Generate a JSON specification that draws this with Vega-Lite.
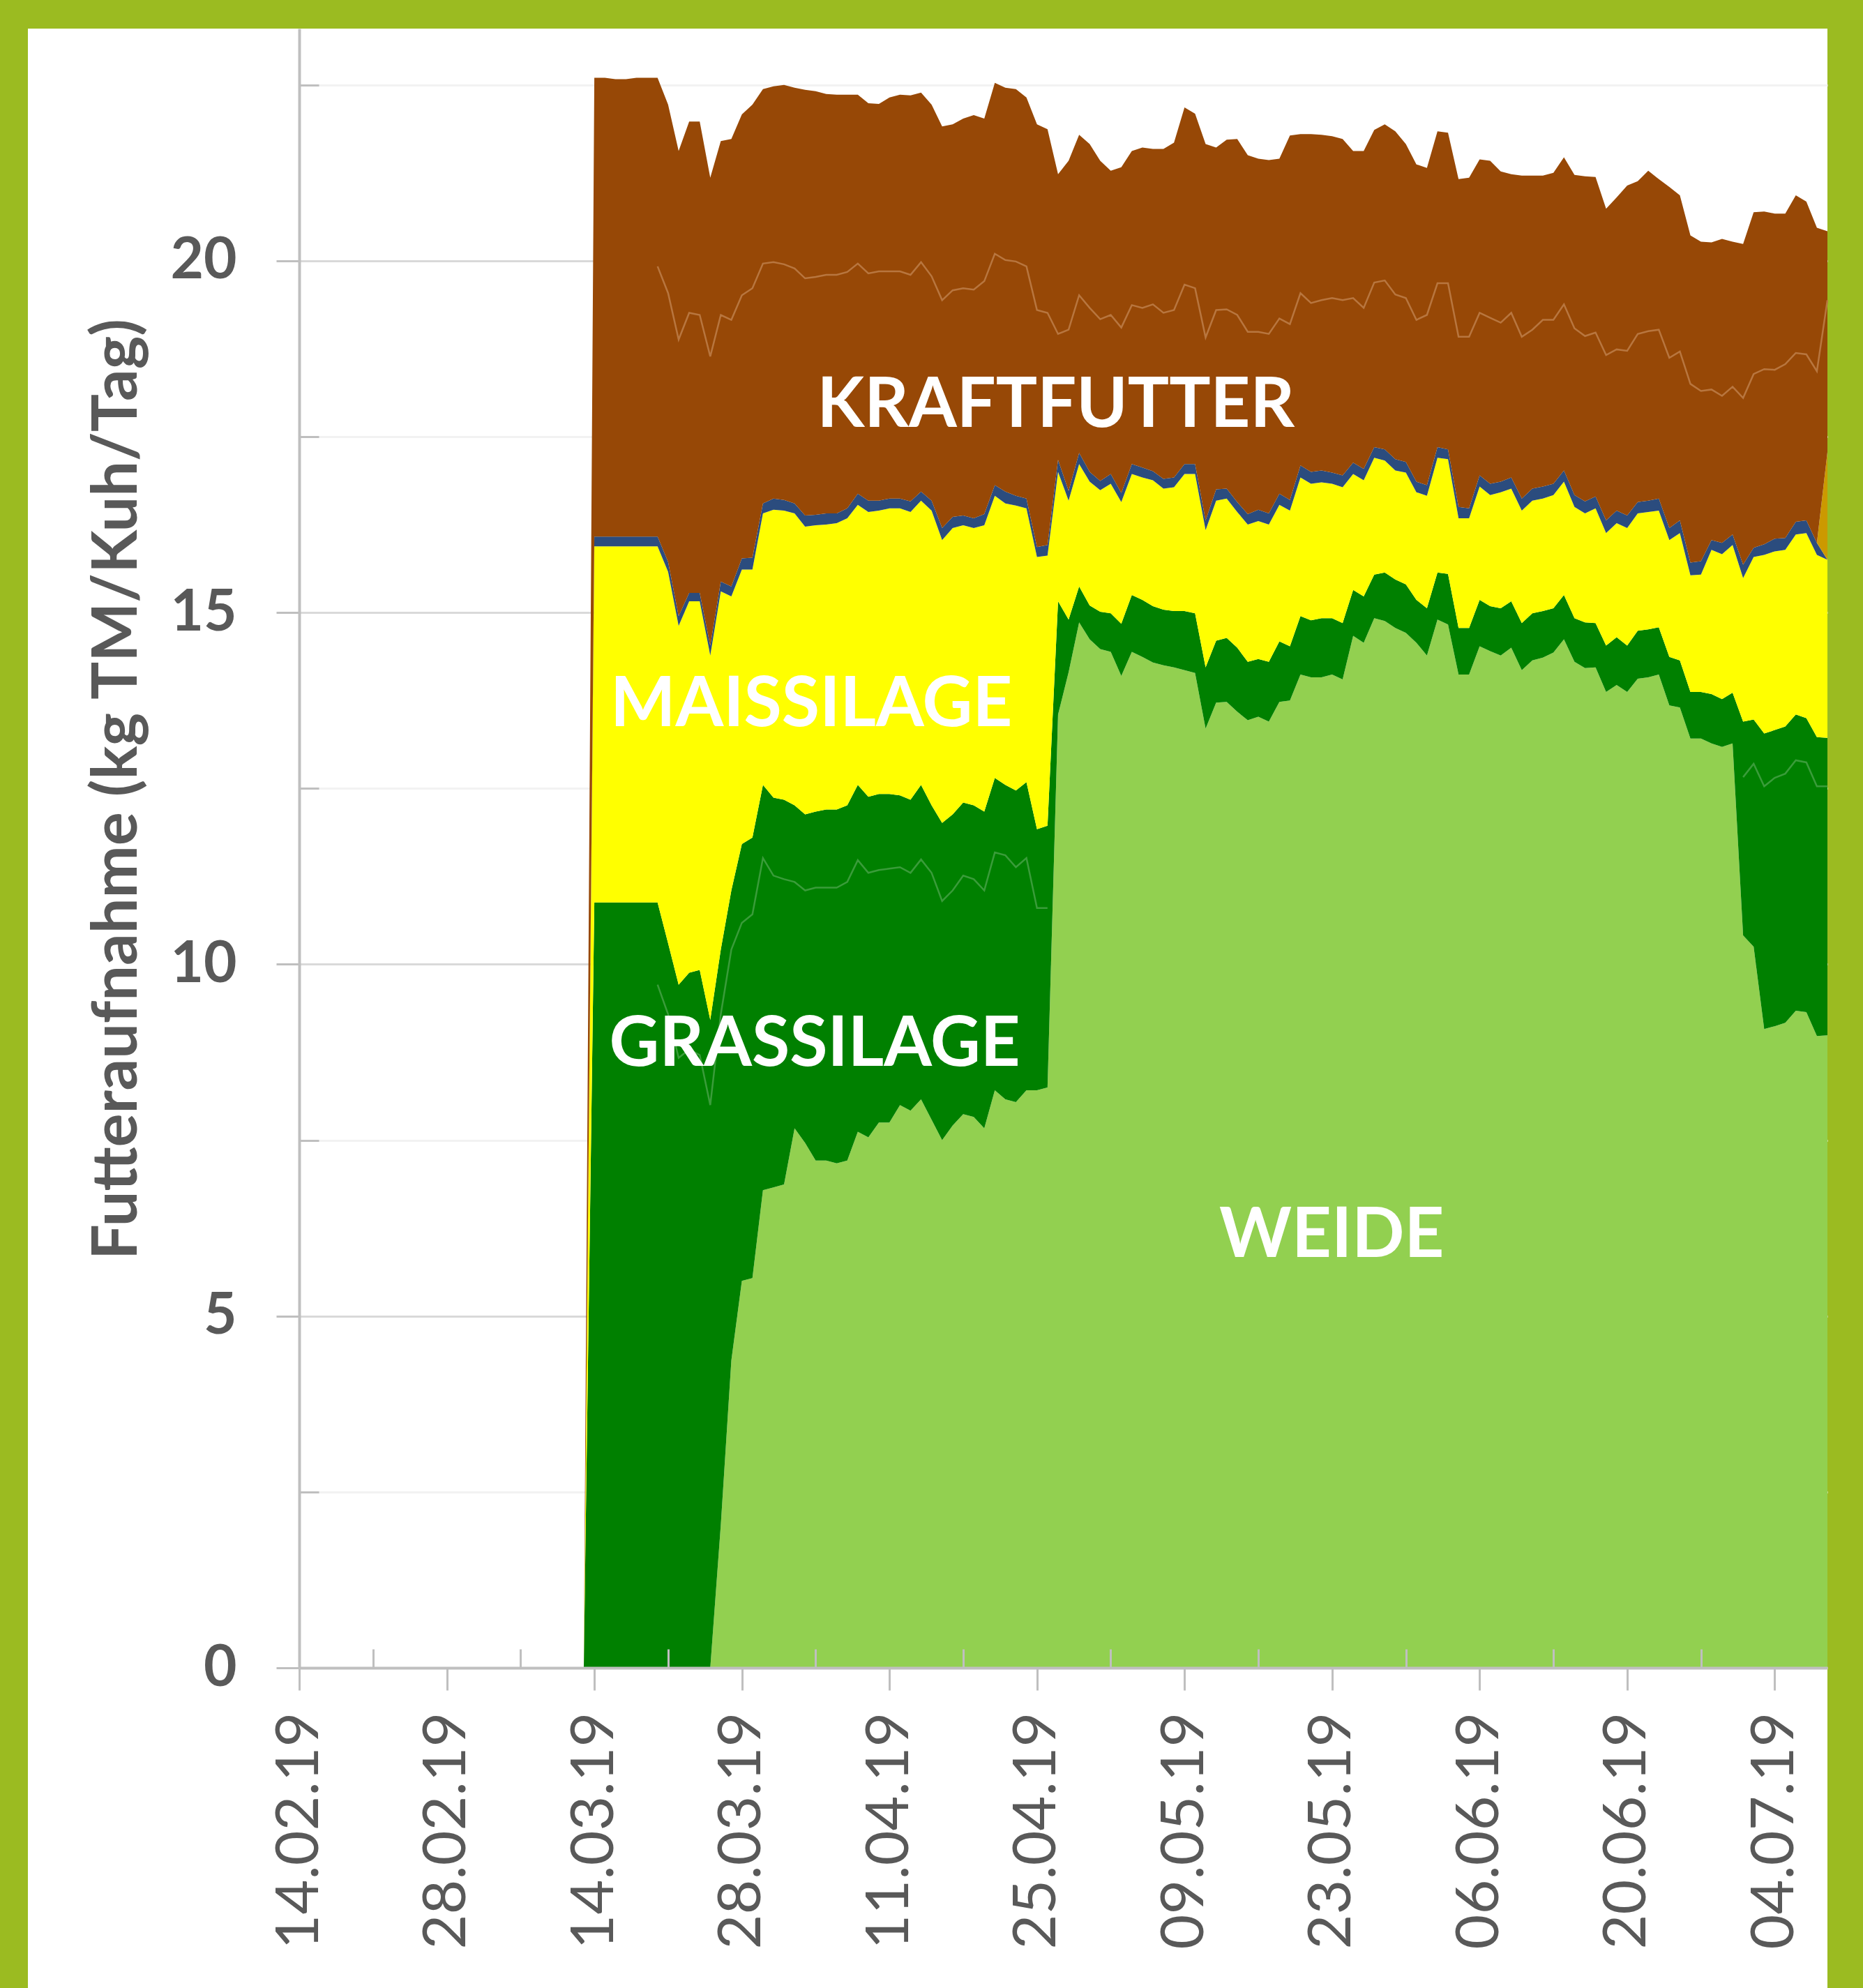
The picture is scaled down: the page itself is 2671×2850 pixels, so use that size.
{
  "$schema": "https://vega.github.io/schema/vega-lite/v6.json",
  "width": 2580,
  "height": 2809,
  "autosize": {"type": "none"},
  "padding": {"left": 40, "top": 41, "right": 51, "bottom": 0},
  "background": "#9BBB21",
  "config": {"view": {"fill": "#FFFFFF", "stroke": null}, "font": "Lato"},
  "datasets": {
    "reihen": [
      {"Futter": "Weide", "nr": 1},
      {"Futter": "Grassilage", "nr": 2},
      {"Futter": "Maissilage", "nr": 3},
      {"Futter": "Mineral", "nr": 4},
      {"Futter": "Sonstige", "nr": 5},
      {"Futter": "Kraftfutter", "nr": 6}
    ],
    "futter": [
      {"Datum": "2019-03-13", "Weide": 0, "Grassilage": 0, "Maissilage": 0, "Mineral": 0, "Sonstige": 0, "Kraftfutter": 0},
      {"Datum": "2019-03-14", "Weide": 0, "Grassilage": 10.88, "Maissilage": 5.06, "Mineral": 0.14, "Sonstige": 0, "Kraftfutter": 6.52},
      {"Datum": "2019-03-15", "Weide": 0, "Grassilage": 10.88, "Maissilage": 5.06, "Mineral": 0.14, "Sonstige": 0, "Kraftfutter": 6.52},
      {"Datum": "2019-03-16", "Weide": 0, "Grassilage": 10.88, "Maissilage": 5.06, "Mineral": 0.14, "Sonstige": 0, "Kraftfutter": 6.50},
      {"Datum": "2019-03-17", "Weide": 0, "Grassilage": 10.88, "Maissilage": 5.06, "Mineral": 0.14, "Sonstige": 0, "Kraftfutter": 6.50},
      {"Datum": "2019-03-18", "Weide": 0, "Grassilage": 10.88, "Maissilage": 5.06, "Mineral": 0.14, "Sonstige": 0, "Kraftfutter": 6.52},
      {"Datum": "2019-03-19", "Weide": 0, "Grassilage": 10.88, "Maissilage": 5.06, "Mineral": 0.14, "Sonstige": 0, "Kraftfutter": 6.52},
      {"Datum": "2019-03-20", "Weide": 0, "Grassilage": 10.88, "Maissilage": 5.06, "Mineral": 0.14, "Sonstige": 0, "Kraftfutter": 6.52},
      {"Datum": "2019-03-21", "Weide": 0, "Grassilage": 10.3, "Maissilage": 5.28, "Mineral": 0.14, "Sonstige": 0, "Kraftfutter": 6.5},
      {"Datum": "2019-03-22", "Weide": 0, "Grassilage": 9.71, "Maissilage": 5.1, "Mineral": 0.14, "Sonstige": 0, "Kraftfutter": 6.61},
      {"Datum": "2019-03-23", "Weide": 0, "Grassilage": 9.88, "Maissilage": 5.28, "Mineral": 0.12, "Sonstige": 0, "Kraftfutter": 6.7},
      {"Datum": "2019-03-24", "Weide": 0, "Grassilage": 9.92, "Maissilage": 5.24, "Mineral": 0.12, "Sonstige": 0, "Kraftfutter": 6.7},
      {"Datum": "2019-03-25", "Weide": 0, "Grassilage": 9.21, "Maissilage": 5.18, "Mineral": 0.14, "Sonstige": 0, "Kraftfutter": 6.65},
      {"Datum": "2019-03-26", "Weide": 2.03, "Grassilage": 8.18, "Maissilage": 5.09, "Mineral": 0.14, "Sonstige": 0, "Kraftfutter": 6.26},
      {"Datum": "2019-03-27", "Weide": 4.37, "Grassilage": 6.68, "Maissilage": 4.18, "Mineral": 0.14, "Sonstige": 0, "Kraftfutter": 6.36},
      {"Datum": "2019-03-28", "Weide": 5.5, "Grassilage": 6.21, "Maissilage": 3.9, "Mineral": 0.16, "Sonstige": 0, "Kraftfutter": 6.31},
      {"Datum": "2019-03-29", "Weide": 5.54, "Grassilage": 6.26, "Maissilage": 3.81, "Mineral": 0.17, "Sonstige": 0, "Kraftfutter": 6.44},
      {"Datum": "2019-03-30", "Weide": 6.79, "Grassilage": 5.76, "Maissilage": 3.86, "Mineral": 0.14, "Sonstige": 0, "Kraftfutter": 5.89},
      {"Datum": "2019-03-31", "Weide": 6.83, "Grassilage": 5.54, "Maissilage": 4.09, "Mineral": 0.16, "Sonstige": 0, "Kraftfutter": 5.86},
      {"Datum": "2019-04-01", "Weide": 6.87, "Grassilage": 5.47, "Maissilage": 4.11, "Mineral": 0.15, "Sonstige": 0, "Kraftfutter": 5.9},
      {"Datum": "2019-04-02", "Weide": 7.67, "Grassilage": 4.59, "Maissilage": 4.15, "Mineral": 0.14, "Sonstige": 0, "Kraftfutter": 5.91},
      {"Datum": "2019-04-03", "Weide": 7.46, "Grassilage": 4.67, "Maissilage": 4.09, "Mineral": 0.16, "Sonstige": 0, "Kraftfutter": 6.05},
      {"Datum": "2019-04-04", "Weide": 7.21, "Grassilage": 4.96, "Maissilage": 4.07, "Mineral": 0.15, "Sonstige": 0, "Kraftfutter": 6.02},
      {"Datum": "2019-04-05", "Weide": 7.21, "Grassilage": 4.99, "Maissilage": 4.05, "Mineral": 0.16, "Sonstige": 0, "Kraftfutter": 5.96},
      {"Datum": "2019-04-06", "Weide": 7.17, "Grassilage": 5.03, "Maissilage": 4.07, "Mineral": 0.14, "Sonstige": 0, "Kraftfutter": 5.95},
      {"Datum": "2019-04-07", "Weide": 7.21, "Grassilage": 5.05, "Maissilage": 4.08, "Mineral": 0.14, "Sonstige": 0, "Kraftfutter": 5.88},
      {"Datum": "2019-04-08", "Weide": 7.62, "Grassilage": 4.93, "Maissilage": 3.98, "Mineral": 0.16, "Sonstige": 0, "Kraftfutter": 5.67},
      {"Datum": "2019-04-09", "Weide": 7.54, "Grassilage": 4.84, "Maissilage": 4.05, "Mineral": 0.16, "Sonstige": 0, "Kraftfutter": 5.65},
      {"Datum": "2019-04-10", "Weide": 7.75, "Grassilage": 4.67, "Maissilage": 4.03, "Mineral": 0.14, "Sonstige": 0, "Kraftfutter": 5.64},
      {"Datum": "2019-04-11", "Weide": 7.75, "Grassilage": 4.67, "Maissilage": 4.06, "Mineral": 0.14, "Sonstige": 0, "Kraftfutter": 5.7},
      {"Datum": "2019-04-12", "Weide": 8.0, "Grassilage": 4.4, "Maissilage": 4.08, "Mineral": 0.14, "Sonstige": 0, "Kraftfutter": 5.74},
      {"Datum": "2019-04-13", "Weide": 7.92, "Grassilage": 4.42, "Maissilage": 4.09, "Mineral": 0.15, "Sonstige": 0, "Kraftfutter": 5.77},
      {"Datum": "2019-04-14", "Weide": 8.08, "Grassilage": 4.47, "Maissilage": 4.04, "Mineral": 0.13, "Sonstige": 0, "Kraftfutter": 5.67},
      {"Datum": "2019-04-15", "Weide": 7.79, "Grassilage": 4.47, "Maissilage": 4.19, "Mineral": 0.14, "Sonstige": 0, "Kraftfutter": 5.63},
      {"Datum": "2019-04-16", "Weide": 7.5, "Grassilage": 4.51, "Maissilage": 4.02, "Mineral": 0.17, "Sonstige": 0, "Kraftfutter": 5.71},
      {"Datum": "2019-04-17", "Weide": 7.71, "Grassilage": 4.42, "Maissilage": 4.07, "Mineral": 0.16, "Sonstige": 0, "Kraftfutter": 5.58},
      {"Datum": "2019-04-18", "Weide": 7.87, "Grassilage": 4.43, "Maissilage": 3.94, "Mineral": 0.14, "Sonstige": 0, "Kraftfutter": 5.64},
      {"Datum": "2019-04-19", "Weide": 7.83, "Grassilage": 4.43, "Maissilage": 3.94, "Mineral": 0.14, "Sonstige": 0, "Kraftfutter": 5.73},
      {"Datum": "2019-04-20", "Weide": 7.67, "Grassilage": 4.5, "Maissilage": 4.07, "Mineral": 0.16, "Sonstige": 0, "Kraftfutter": 5.62},
      {"Datum": "2019-04-21", "Weide": 8.21, "Grassilage": 4.44, "Maissilage": 4.01, "Mineral": 0.15, "Sonstige": 0, "Kraftfutter": 5.72},
      {"Datum": "2019-04-22", "Weide": 8.08, "Grassilage": 4.47, "Maissilage": 4.0, "Mineral": 0.17, "Sonstige": 0, "Kraftfutter": 5.74},
      {"Datum": "2019-04-23", "Weide": 8.04, "Grassilage": 4.43, "Maissilage": 4.05, "Mineral": 0.14, "Sonstige": 0, "Kraftfutter": 5.78},
      {"Datum": "2019-04-24", "Weide": 8.21, "Grassilage": 4.38, "Maissilage": 3.89, "Mineral": 0.14, "Sonstige": 0, "Kraftfutter": 5.7},
      {"Datum": "2019-04-25", "Weide": 8.21, "Grassilage": 3.71, "Maissilage": 3.87, "Mineral": 0.14, "Sonstige": 0, "Kraftfutter": 6.01},
      {"Datum": "2019-04-26", "Weide": 8.25, "Grassilage": 3.72, "Maissilage": 3.84, "Mineral": 0.15, "Sonstige": 0, "Kraftfutter": 5.91},
      {"Datum": "2019-04-27", "Weide": 13.55, "Grassilage": 1.61, "Maissilage": 1.84, "Mineral": 0.17, "Sonstige": 0, "Kraftfutter": 4.06},
      {"Datum": "2019-04-28", "Weide": 14.15, "Grassilage": 0.75, "Maissilage": 1.69, "Mineral": 0.14, "Sonstige": 0, "Kraftfutter": 4.69},
      {"Datum": "2019-04-29", "Weide": 14.86, "Grassilage": 0.51, "Maissilage": 1.74, "Mineral": 0.16, "Sonstige": 0, "Kraftfutter": 4.52},
      {"Datum": "2019-04-30", "Weide": 14.62, "Grassilage": 0.48, "Maissilage": 1.76, "Mineral": 0.14, "Sonstige": 0, "Kraftfutter": 4.66},
      {"Datum": "2019-05-01", "Weide": 14.48, "Grassilage": 0.53, "Maissilage": 1.73, "Mineral": 0.13, "Sonstige": 0, "Kraftfutter": 4.55},
      {"Datum": "2019-05-02", "Weide": 14.44, "Grassilage": 0.55, "Maissilage": 1.84, "Mineral": 0.14, "Sonstige": 0, "Kraftfutter": 4.31},
      {"Datum": "2019-05-03", "Weide": 14.1, "Grassilage": 0.74, "Maissilage": 1.73, "Mineral": 0.13, "Sonstige": 0, "Kraftfutter": 4.63},
      {"Datum": "2019-05-04", "Weide": 14.44, "Grassilage": 0.81, "Maissilage": 1.72, "Mineral": 0.14, "Sonstige": 0, "Kraftfutter": 4.45},
      {"Datum": "2019-05-05", "Weide": 14.37, "Grassilage": 0.81, "Maissilage": 1.74, "Mineral": 0.14, "Sonstige": 0, "Kraftfutter": 4.55},
      {"Datum": "2019-05-06", "Weide": 14.29, "Grassilage": 0.8, "Maissilage": 1.79, "Mineral": 0.13, "Sonstige": 0, "Kraftfutter": 4.58},
      {"Datum": "2019-05-07", "Weide": 14.25, "Grassilage": 0.79, "Maissilage": 1.72, "Mineral": 0.14, "Sonstige": 0, "Kraftfutter": 4.69},
      {"Datum": "2019-05-08", "Weide": 14.22, "Grassilage": 0.8, "Maissilage": 1.76, "Mineral": 0.14, "Sonstige": 0, "Kraftfutter": 4.76},
      {"Datum": "2019-05-09", "Weide": 14.18, "Grassilage": 0.84, "Maissilage": 1.95, "Mineral": 0.14, "Sonstige": 0, "Kraftfutter": 5.07},
      {"Datum": "2019-05-10", "Weide": 14.14, "Grassilage": 0.85, "Maissilage": 1.98, "Mineral": 0.14, "Sonstige": 0, "Kraftfutter": 4.98},
      {"Datum": "2019-05-11", "Weide": 13.35, "Grassilage": 0.87, "Maissilage": 1.95, "Mineral": 0.14, "Sonstige": 0, "Kraftfutter": 5.35},
      {"Datum": "2019-05-12", "Weide": 13.72, "Grassilage": 0.88, "Maissilage": 1.99, "Mineral": 0.16, "Sonstige": 0, "Kraftfutter": 4.86},
      {"Datum": "2019-05-13", "Weide": 13.73, "Grassilage": 0.91, "Maissilage": 1.98, "Mineral": 0.14, "Sonstige": 0, "Kraftfutter": 4.96},
      {"Datum": "2019-05-14", "Weide": 13.59, "Grassilage": 0.91, "Maissilage": 1.93, "Mineral": 0.14, "Sonstige": 0, "Kraftfutter": 5.16},
      {"Datum": "2019-05-15", "Weide": 13.47, "Grassilage": 0.83, "Maissilage": 1.95, "Mineral": 0.15, "Sonstige": 0, "Kraftfutter": 5.1},
      {"Datum": "2019-05-16", "Weide": 13.52, "Grassilage": 0.82, "Maissilage": 1.96, "Mineral": 0.16, "Sonstige": 0, "Kraftfutter": 4.99},
      {"Datum": "2019-05-17", "Weide": 13.45, "Grassilage": 0.85, "Maissilage": 1.95, "Mineral": 0.16, "Sonstige": 0, "Kraftfutter": 5.02},
      {"Datum": "2019-05-18", "Weide": 13.73, "Grassilage": 0.86, "Maissilage": 1.94, "Mineral": 0.16, "Sonstige": 0, "Kraftfutter": 4.76},
      {"Datum": "2019-05-19", "Weide": 13.75, "Grassilage": 0.77, "Maissilage": 1.93, "Mineral": 0.15, "Sonstige": 0, "Kraftfutter": 5.18},
      {"Datum": "2019-05-20", "Weide": 14.12, "Grassilage": 0.83, "Maissilage": 1.97, "Mineral": 0.17, "Sonstige": 0, "Kraftfutter": 4.71},
      {"Datum": "2019-05-21", "Weide": 14.08, "Grassilage": 0.81, "Maissilage": 1.94, "Mineral": 0.17, "Sonstige": 0, "Kraftfutter": 4.8},
      {"Datum": "2019-05-22", "Weide": 14.08, "Grassilage": 0.84, "Maissilage": 1.93, "Mineral": 0.17, "Sonstige": 0, "Kraftfutter": 4.77},
      {"Datum": "2019-05-23", "Weide": 14.12, "Grassilage": 0.8, "Maissilage": 1.91, "Mineral": 0.16, "Sonstige": 0, "Kraftfutter": 4.78},
      {"Datum": "2019-05-24", "Weide": 14.05, "Grassilage": 0.8, "Maissilage": 1.93, "Mineral": 0.17, "Sonstige": 0, "Kraftfutter": 4.78},
      {"Datum": "2019-05-25", "Weide": 14.67, "Grassilage": 0.65, "Maissilage": 1.65, "Mineral": 0.16, "Sonstige": 0, "Kraftfutter": 4.43},
      {"Datum": "2019-05-26", "Weide": 14.57, "Grassilage": 0.66, "Maissilage": 1.65, "Mineral": 0.16, "Sonstige": 0, "Kraftfutter": 4.52},
      {"Datum": "2019-05-27", "Weide": 14.92, "Grassilage": 0.62, "Maissilage": 1.66, "Mineral": 0.15, "Sonstige": 0, "Kraftfutter": 4.51},
      {"Datum": "2019-05-28", "Weide": 14.88, "Grassilage": 0.69, "Maissilage": 1.59, "Mineral": 0.16, "Sonstige": 0, "Kraftfutter": 4.62},
      {"Datum": "2019-05-29", "Weide": 14.78, "Grassilage": 0.69, "Maissilage": 1.55, "Mineral": 0.16, "Sonstige": 0, "Kraftfutter": 4.66},
      {"Datum": "2019-05-30", "Weide": 14.71, "Grassilage": 0.69, "Maissilage": 1.59, "Mineral": 0.15, "Sonstige": 0, "Kraftfutter": 4.52},
      {"Datum": "2019-05-31", "Weide": 14.57, "Grassilage": 0.61, "Maissilage": 1.53, "Mineral": 0.15, "Sonstige": 0, "Kraftfutter": 4.51},
      {"Datum": "2019-06-01", "Weide": 14.39, "Grassilage": 0.67, "Maissilage": 1.6, "Mineral": 0.15, "Sonstige": 0, "Kraftfutter": 4.51},
      {"Datum": "2019-06-02", "Weide": 14.9, "Grassilage": 0.67, "Maissilage": 1.63, "Mineral": 0.15, "Sonstige": 0, "Kraftfutter": 4.49},
      {"Datum": "2019-06-03", "Weide": 14.83, "Grassilage": 0.72, "Maissilage": 1.63, "Mineral": 0.14, "Sonstige": 0, "Kraftfutter": 4.5},
      {"Datum": "2019-06-04", "Weide": 14.12, "Grassilage": 0.66, "Maissilage": 1.56, "Mineral": 0.16, "Sonstige": 0, "Kraftfutter": 4.66},
      {"Datum": "2019-06-05", "Weide": 14.12, "Grassilage": 0.66, "Maissilage": 1.56, "Mineral": 0.14, "Sonstige": 0, "Kraftfutter": 4.7},
      {"Datum": "2019-06-06", "Weide": 14.52, "Grassilage": 0.66, "Maissilage": 1.61, "Mineral": 0.16, "Sonstige": 0, "Kraftfutter": 4.49},
      {"Datum": "2019-06-07", "Weide": 14.45, "Grassilage": 0.64, "Maissilage": 1.58, "Mineral": 0.16, "Sonstige": 0, "Kraftfutter": 4.59},
      {"Datum": "2019-06-08", "Weide": 14.39, "Grassilage": 0.67, "Maissilage": 1.65, "Mineral": 0.15, "Sonstige": 0, "Kraftfutter": 4.41},
      {"Datum": "2019-06-09", "Weide": 14.5, "Grassilage": 0.66, "Maissilage": 1.6, "Mineral": 0.16, "Sonstige": 0, "Kraftfutter": 4.31},
      {"Datum": "2019-06-10", "Weide": 14.18, "Grassilage": 0.67, "Maissilage": 1.6, "Mineral": 0.17, "Sonstige": 0, "Kraftfutter": 4.59},
      {"Datum": "2019-06-11", "Weide": 14.32, "Grassilage": 0.67, "Maissilage": 1.6, "Mineral": 0.17, "Sonstige": 0, "Kraftfutter": 4.45},
      {"Datum": "2019-06-12", "Weide": 14.36, "Grassilage": 0.66, "Maissilage": 1.6, "Mineral": 0.17, "Sonstige": 0, "Kraftfutter": 4.42},
      {"Datum": "2019-06-13", "Weide": 14.43, "Grassilage": 0.63, "Maissilage": 1.61, "Mineral": 0.16, "Sonstige": 0, "Kraftfutter": 4.42},
      {"Datum": "2019-06-14", "Weide": 14.62, "Grassilage": 0.63, "Maissilage": 1.61, "Mineral": 0.16, "Sonstige": 0, "Kraftfutter": 4.45},
      {"Datum": "2019-06-15", "Weide": 14.3, "Grassilage": 0.62, "Maissilage": 1.58, "Mineral": 0.17, "Sonstige": 0, "Kraftfutter": 4.55},
      {"Datum": "2019-06-16", "Weide": 14.21, "Grassilage": 0.65, "Maissilage": 1.55, "Mineral": 0.17, "Sonstige": 0, "Kraftfutter": 4.62},
      {"Datum": "2019-06-17", "Weide": 14.22, "Grassilage": 0.63, "Maissilage": 1.63, "Mineral": 0.17, "Sonstige": 0, "Kraftfutter": 4.54},
      {"Datum": "2019-06-18", "Weide": 13.87, "Grassilage": 0.66, "Maissilage": 1.6, "Mineral": 0.18, "Sonstige": 0, "Kraftfutter": 4.43},
      {"Datum": "2019-06-19", "Weide": 13.97, "Grassilage": 0.68, "Maissilage": 1.62, "Mineral": 0.18, "Sonstige": 0, "Kraftfutter": 4.45},
      {"Datum": "2019-06-20", "Weide": 13.87, "Grassilage": 0.66, "Maissilage": 1.67, "Mineral": 0.18, "Sonstige": 0, "Kraftfutter": 4.69},
      {"Datum": "2019-06-21", "Weide": 14.06, "Grassilage": 0.68, "Maissilage": 1.67, "Mineral": 0.16, "Sonstige": 0, "Kraftfutter": 4.56},
      {"Datum": "2019-06-22", "Weide": 14.08, "Grassilage": 0.68, "Maissilage": 1.67, "Mineral": 0.16, "Sonstige": 0, "Kraftfutter": 4.69},
      {"Datum": "2019-06-23", "Weide": 14.12, "Grassilage": 0.67, "Maissilage": 1.66, "Mineral": 0.17, "Sonstige": 0, "Kraftfutter": 4.54},
      {"Datum": "2019-06-24", "Weide": 13.68, "Grassilage": 0.69, "Maissilage": 1.66, "Mineral": 0.17, "Sonstige": 0, "Kraftfutter": 4.85},
      {"Datum": "2019-06-25", "Weide": 13.65, "Grassilage": 0.67, "Maissilage": 1.81, "Mineral": 0.18, "Sonstige": 0, "Kraftfutter": 4.62},
      {"Datum": "2019-06-26", "Weide": 13.21, "Grassilage": 0.66, "Maissilage": 1.66, "Mineral": 0.18, "Sonstige": 0, "Kraftfutter": 4.65},
      {"Datum": "2019-06-27", "Weide": 13.21, "Grassilage": 0.66, "Maissilage": 1.67, "Mineral": 0.19, "Sonstige": 0, "Kraftfutter": 4.54},
      {"Datum": "2019-06-28", "Weide": 13.14, "Grassilage": 0.7, "Maissilage": 2.05, "Mineral": 0.14, "Sonstige": 0, "Kraftfutter": 4.23},
      {"Datum": "2019-06-29", "Weide": 13.09, "Grassilage": 0.68, "Maissilage": 2.06, "Mineral": 0.16, "Sonstige": 0, "Kraftfutter": 4.32},
      {"Datum": "2019-06-30", "Weide": 13.14, "Grassilage": 0.72, "Maissilage": 2.1, "Mineral": 0.15, "Sonstige": 0, "Kraftfutter": 4.16},
      {"Datum": "2019-07-01", "Weide": 10.41, "Grassilage": 3.04, "Maissilage": 2.04, "Mineral": 0.19, "Sonstige": 0, "Kraftfutter": 4.56},
      {"Datum": "2019-07-02", "Weide": 10.25, "Grassilage": 3.23, "Maissilage": 2.31, "Mineral": 0.13, "Sonstige": 0, "Kraftfutter": 4.77},
      {"Datum": "2019-07-03", "Weide": 9.08, "Grassilage": 4.2, "Maissilage": 2.54, "Mineral": 0.15, "Sonstige": 0, "Kraftfutter": 4.73},
      {"Datum": "2019-07-04", "Weide": 9.12, "Grassilage": 4.21, "Maissilage": 2.54, "Mineral": 0.18, "Sonstige": 0, "Kraftfutter": 4.62},
      {"Datum": "2019-07-05", "Weide": 9.17, "Grassilage": 4.21, "Maissilage": 2.51, "Mineral": 0.17, "Sonstige": 0, "Kraftfutter": 4.61},
      {"Datum": "2019-07-06", "Weide": 9.34, "Grassilage": 4.21, "Maissilage": 2.56, "Mineral": 0.18, "Sonstige": 0, "Kraftfutter": 4.64},
      {"Datum": "2019-07-07", "Weide": 9.32, "Grassilage": 4.18, "Maissilage": 2.63, "Mineral": 0.18, "Sonstige": 0, "Kraftfutter": 4.53},
      {"Datum": "2019-07-08", "Weide": 8.98, "Grassilage": 4.25, "Maissilage": 2.59, "Mineral": 0.17, "Sonstige": 0, "Kraftfutter": 4.48},
      {"Datum": "2019-07-09", "Weide": 8.99, "Grassilage": 4.23, "Maissilage": 2.53, "Mineral": 0, "Sonstige": 1.53, "Kraftfutter": 3.14}
    ],
    "naht_gras": [
      {"Datum": "2019-03-20", "Abschnitt": "a", "kg": 9.71},
      {"Datum": "2019-03-21", "Abschnitt": "a", "kg": 9.29},
      {"Datum": "2019-03-22", "Abschnitt": "a", "kg": 8.67},
      {"Datum": "2019-03-23", "Abschnitt": "a", "kg": 8.79},
      {"Datum": "2019-03-24", "Abschnitt": "a", "kg": 8.71},
      {"Datum": "2019-03-25", "Abschnitt": "a", "kg": 8.0},
      {"Datum": "2019-03-26", "Abschnitt": "a", "kg": 9.29},
      {"Datum": "2019-03-27", "Abschnitt": "a", "kg": 10.21},
      {"Datum": "2019-03-28", "Abschnitt": "a", "kg": 10.59},
      {"Datum": "2019-03-29", "Abschnitt": "a", "kg": 10.71},
      {"Datum": "2019-03-30", "Abschnitt": "a", "kg": 11.51},
      {"Datum": "2019-03-31", "Abschnitt": "a", "kg": 11.26},
      {"Datum": "2019-04-01", "Abschnitt": "a", "kg": 11.21},
      {"Datum": "2019-04-02", "Abschnitt": "a", "kg": 11.17},
      {"Datum": "2019-04-03", "Abschnitt": "a", "kg": 11.05},
      {"Datum": "2019-04-04", "Abschnitt": "a", "kg": 11.09},
      {"Datum": "2019-04-05", "Abschnitt": "a", "kg": 11.09},
      {"Datum": "2019-04-06", "Abschnitt": "a", "kg": 11.09},
      {"Datum": "2019-04-07", "Abschnitt": "a", "kg": 11.17},
      {"Datum": "2019-04-08", "Abschnitt": "a", "kg": 11.48},
      {"Datum": "2019-04-09", "Abschnitt": "a", "kg": 11.3},
      {"Datum": "2019-04-10", "Abschnitt": "a", "kg": 11.34},
      {"Datum": "2019-04-11", "Abschnitt": "a", "kg": 11.36},
      {"Datum": "2019-04-12", "Abschnitt": "a", "kg": 11.38},
      {"Datum": "2019-04-13", "Abschnitt": "a", "kg": 11.3},
      {"Datum": "2019-04-14", "Abschnitt": "a", "kg": 11.49},
      {"Datum": "2019-04-15", "Abschnitt": "a", "kg": 11.3},
      {"Datum": "2019-04-16", "Abschnitt": "a", "kg": 10.9},
      {"Datum": "2019-04-17", "Abschnitt": "a", "kg": 11.05},
      {"Datum": "2019-04-18", "Abschnitt": "a", "kg": 11.26},
      {"Datum": "2019-04-19", "Abschnitt": "a", "kg": 11.21},
      {"Datum": "2019-04-20", "Abschnitt": "a", "kg": 11.05},
      {"Datum": "2019-04-21", "Abschnitt": "a", "kg": 11.59},
      {"Datum": "2019-04-22", "Abschnitt": "a", "kg": 11.55},
      {"Datum": "2019-04-23", "Abschnitt": "a", "kg": 11.38},
      {"Datum": "2019-04-24", "Abschnitt": "a", "kg": 11.51},
      {"Datum": "2019-04-25", "Abschnitt": "a", "kg": 10.8},
      {"Datum": "2019-04-26", "Abschnitt": "a", "kg": 10.8},
      {"Datum": "2019-07-01", "Abschnitt": "b", "kg": 12.66},
      {"Datum": "2019-07-02", "Abschnitt": "b", "kg": 12.85},
      {"Datum": "2019-07-03", "Abschnitt": "b", "kg": 12.53},
      {"Datum": "2019-07-04", "Abschnitt": "b", "kg": 12.65},
      {"Datum": "2019-07-05", "Abschnitt": "b", "kg": 12.71},
      {"Datum": "2019-07-06", "Abschnitt": "b", "kg": 12.9},
      {"Datum": "2019-07-07", "Abschnitt": "b", "kg": 12.87},
      {"Datum": "2019-07-08", "Abschnitt": "b", "kg": 12.53},
      {"Datum": "2019-07-09", "Abschnitt": "b", "kg": 12.53}
    ],
    "naht_kraft": [
      {"Datum": "2019-03-20", "kg": 19.92}, {"Datum": "2019-03-21", "kg": 19.54}, {"Datum": "2019-03-22", "kg": 18.88},
      {"Datum": "2019-03-23", "kg": 19.26}, {"Datum": "2019-03-24", "kg": 19.23}, {"Datum": "2019-03-25", "kg": 18.64},
      {"Datum": "2019-03-26", "kg": 19.23}, {"Datum": "2019-03-27", "kg": 19.16}, {"Datum": "2019-03-28", "kg": 19.51},
      {"Datum": "2019-03-29", "kg": 19.61}, {"Datum": "2019-03-30", "kg": 19.96}, {"Datum": "2019-03-31", "kg": 19.98},
      {"Datum": "2019-04-01", "kg": 19.95}, {"Datum": "2019-04-02", "kg": 19.89}, {"Datum": "2019-04-03", "kg": 19.75},
      {"Datum": "2019-04-04", "kg": 19.77}, {"Datum": "2019-04-05", "kg": 19.8}, {"Datum": "2019-04-06", "kg": 19.8},
      {"Datum": "2019-04-07", "kg": 19.84}, {"Datum": "2019-04-08", "kg": 19.96}, {"Datum": "2019-04-09", "kg": 19.82},
      {"Datum": "2019-04-10", "kg": 19.85}, {"Datum": "2019-04-11", "kg": 19.85}, {"Datum": "2019-04-12", "kg": 19.85},
      {"Datum": "2019-04-13", "kg": 19.8}, {"Datum": "2019-04-14", "kg": 19.98}, {"Datum": "2019-04-15", "kg": 19.78},
      {"Datum": "2019-04-16", "kg": 19.44}, {"Datum": "2019-04-17", "kg": 19.58}, {"Datum": "2019-04-18", "kg": 19.61},
      {"Datum": "2019-04-19", "kg": 19.59}, {"Datum": "2019-04-20", "kg": 19.71}, {"Datum": "2019-04-21", "kg": 20.1},
      {"Datum": "2019-04-22", "kg": 20.01}, {"Datum": "2019-04-23", "kg": 19.99}, {"Datum": "2019-04-24", "kg": 19.92},
      {"Datum": "2019-04-25", "kg": 19.3}, {"Datum": "2019-04-26", "kg": 19.26}, {"Datum": "2019-04-27", "kg": 18.96},
      {"Datum": "2019-04-28", "kg": 19.02}, {"Datum": "2019-04-29", "kg": 19.51}, {"Datum": "2019-04-30", "kg": 19.33},
      {"Datum": "2019-05-01", "kg": 19.17}, {"Datum": "2019-05-02", "kg": 19.23}, {"Datum": "2019-05-03", "kg": 19.05},
      {"Datum": "2019-05-04", "kg": 19.37}, {"Datum": "2019-05-05", "kg": 19.33}, {"Datum": "2019-05-06", "kg": 19.38},
      {"Datum": "2019-05-07", "kg": 19.26}, {"Datum": "2019-05-08", "kg": 19.3}, {"Datum": "2019-05-09", "kg": 19.66},
      {"Datum": "2019-05-10", "kg": 19.61}, {"Datum": "2019-05-11", "kg": 18.91}, {"Datum": "2019-05-12", "kg": 19.3},
      {"Datum": "2019-05-13", "kg": 19.31}, {"Datum": "2019-05-14", "kg": 19.23}, {"Datum": "2019-05-15", "kg": 18.99},
      {"Datum": "2019-05-16", "kg": 18.99}, {"Datum": "2019-05-17", "kg": 18.96}, {"Datum": "2019-05-18", "kg": 19.18},
      {"Datum": "2019-05-19", "kg": 19.1}, {"Datum": "2019-05-20", "kg": 19.54}, {"Datum": "2019-05-21", "kg": 19.4},
      {"Datum": "2019-05-22", "kg": 19.44}, {"Datum": "2019-05-23", "kg": 19.47}, {"Datum": "2019-05-24", "kg": 19.44},
      {"Datum": "2019-05-25", "kg": 19.47}, {"Datum": "2019-05-26", "kg": 19.33}, {"Datum": "2019-05-27", "kg": 19.69},
      {"Datum": "2019-05-28", "kg": 19.72}, {"Datum": "2019-05-29", "kg": 19.52}, {"Datum": "2019-05-30", "kg": 19.47},
      {"Datum": "2019-05-31", "kg": 19.16}, {"Datum": "2019-06-01", "kg": 19.23}, {"Datum": "2019-06-02", "kg": 19.68},
      {"Datum": "2019-06-03", "kg": 19.68}, {"Datum": "2019-06-04", "kg": 18.92}, {"Datum": "2019-06-05", "kg": 18.92},
      {"Datum": "2019-06-06", "kg": 19.26}, {"Datum": "2019-06-07", "kg": 19.19}, {"Datum": "2019-06-08", "kg": 19.12},
      {"Datum": "2019-06-09", "kg": 19.26}, {"Datum": "2019-06-10", "kg": 18.92}, {"Datum": "2019-06-11", "kg": 19.02},
      {"Datum": "2019-06-12", "kg": 19.16}, {"Datum": "2019-06-13", "kg": 19.16}, {"Datum": "2019-06-14", "kg": 19.38},
      {"Datum": "2019-06-15", "kg": 19.04}, {"Datum": "2019-06-16", "kg": 18.93}, {"Datum": "2019-06-17", "kg": 18.98},
      {"Datum": "2019-06-18", "kg": 18.66}, {"Datum": "2019-06-19", "kg": 18.74}, {"Datum": "2019-06-20", "kg": 18.72},
      {"Datum": "2019-06-21", "kg": 18.96}, {"Datum": "2019-06-22", "kg": 19.0}, {"Datum": "2019-06-23", "kg": 19.02},
      {"Datum": "2019-06-24", "kg": 18.62}, {"Datum": "2019-06-25", "kg": 18.71}, {"Datum": "2019-06-26", "kg": 18.25},
      {"Datum": "2019-06-27", "kg": 18.15}, {"Datum": "2019-06-28", "kg": 18.17}, {"Datum": "2019-06-29", "kg": 18.08},
      {"Datum": "2019-06-30", "kg": 18.21}, {"Datum": "2019-07-01", "kg": 18.05}, {"Datum": "2019-07-02", "kg": 18.39},
      {"Datum": "2019-07-03", "kg": 18.46}, {"Datum": "2019-07-04", "kg": 18.45}, {"Datum": "2019-07-05", "kg": 18.53},
      {"Datum": "2019-07-06", "kg": 18.69}, {"Datum": "2019-07-07", "kg": 18.67}, {"Datum": "2019-07-08", "kg": 18.43},
      {"Datum": "2019-07-09", "kg": 19.44}
    ],
    "beschriftung": [
      {"Text": "KRAFTFUTTER", "Datum": "2019-04-26T19:00:00Z", "kg": 17.64},
      {"Text": "MAISSILAGE", "Datum": "2019-04-03T14:00:00Z", "kg": 13.39},
      {"Text": "GRASSILAGE", "Datum": "2019-04-03T22:00:00Z", "kg": 8.56},
      {"Text": "WEIDE", "Datum": "2019-05-22T23:00:00Z", "kg": 5.84}
    ]
  },
  "layer": [
    {
      "data": {"name": "futter"},
      "transform": [
        {"fold": ["Weide", "Grassilage", "Maissilage", "Mineral", "Sonstige", "Kraftfutter"], "as": ["Futter", "kg"]},
        {"lookup": "Futter", "from": {"data": {"name": "reihen"}, "key": "Futter", "fields": ["nr"]}}
      ],
      "mark": {"type": "area", "interpolate": "linear"},
      "encoding": {
        "x": {
          "field": "Datum", "type": "temporal", "title": null,
          "scale": {"type": "utc", "domain": [1550102400000, 1562630400000], "range": [389, 2580]},
          "axis": {
            "values": [1550102400000, 1550707200000, 1551312000000, 1551916800000, 1552521600000, 1553126400000, 1553731200000, 1554336000000, 1554940800000, 1555545600000, 1556150400000, 1556755200000, 1557360000000, 1557964800000, 1558569600000, 1559174400000, 1559779200000, 1560384000000, 1560988800000, 1561593600000, 1562198400000],
            "offset": -459,
            "grid": false,
            "domainColor": "#BFBFBF", "domainWidth": 4,
            "tickColor": "#BFBFBF", "tickWidth": 3,
            "tickSize": {"condition": {"test": "round((+datum.value - 1550102400000) / 86400000) % 14 === 0", "value": 32}, "value": -27},
            "labelExpr": "round((+datum.value - 1550102400000) / 86400000) % 14 === 0 ? utcFormat(datum.value, '%d.%m.%y') : ''",
            "labelAngle": -90, "labelAlign": "right", "labelBaseline": "middle",
            "labelFont": "Lato", "labelFontSize": 86, "labelColor": "#595959", "labelPadding": 31,
            "labelOverlap": false, "labelFlush": false, "labelBound": false, "labelLimit": 0,
            "zindex": 1
          }
        },
        "y": {
          "field": "kg", "type": "quantitative", "stack": "zero",
          "title": "Futteraufnahme (kg TM/Kuh/Tag)",
          "scale": {"domain": [0, 23.3], "range": [2350, 0], "nice": false, "zero": true},
          "axis": {
            "values": [0, 2.5, 5, 7.5, 10, 12.5, 15, 17.5, 20, 22.5],
            "offset": -389,
            "domainColor": "#BFBFBF", "domainWidth": 4,
            "grid": true,
            "gridColor": {"condition": {"test": "datum.value % 5 === 0", "value": "#D9D9D9"}, "value": "#F2F2F2"},
            "gridWidth": 3,
            "tickColor": "#BFBFBF", "tickWidth": 3,
            "tickSize": {"condition": {"test": "datum.value % 5 === 0", "value": 33}, "value": -28},
            "labelExpr": "datum.value % 5 === 0 ? format(datum.value, 'd') : ''",
            "labelFont": "Lato", "labelFontSize": 82, "labelFontWeight": "bold", "labelColor": "#595959",
            "labelPadding": 57, "labelOverlap": false, "labelLimit": 0,
            "titleFont": "Lato", "titleFontSize": 90, "titleFontWeight": "bold", "titleColor": "#595959",
            "titleX": -261, "titleY": 1090, "titleAngle": -90, "titleAlign": "center", "titleBaseline": "middle", "titleLimit": 0
          }
        },
        "color": {
          "field": "Futter", "type": "nominal", "legend": null,
          "scale": {
            "domain": ["Weide", "Grassilage", "Maissilage", "Mineral", "Sonstige", "Kraftfutter"],
            "range": ["#92D050", "#008000", "#FFFF00", "#2B4C7E", "#CC9900", "#974806"]
          }
        },
        "order": {"field": "nr", "type": "quantitative"}
      }
    },
    {
      "data": {"name": "naht_gras"},
      "mark": {"type": "line", "color": "#3A9C3A", "strokeWidth": 2.5, "interpolate": "linear"},
      "encoding": {
        "x": {"field": "Datum", "type": "temporal", "title": null},
        "y": {"field": "kg", "type": "quantitative", "title": "Futteraufnahme (kg TM/Kuh/Tag)"},
        "detail": {"field": "Abschnitt", "type": "nominal"}
      }
    },
    {
      "data": {"name": "naht_kraft"},
      "mark": {"type": "line", "color": "#B8763F", "strokeWidth": 2.5, "interpolate": "linear"},
      "encoding": {
        "x": {"field": "Datum", "type": "temporal", "title": null},
        "y": {"field": "kg", "type": "quantitative", "title": "Futteraufnahme (kg TM/Kuh/Tag)"}
      }
    },
    {
      "data": {"name": "beschriftung"},
      "mark": {"type": "text", "color": "#FFFFFF", "font": "Lato", "fontWeight": "bold", "fontSize": 99, "align": "center", "baseline": "alphabetic"},
      "encoding": {
        "x": {"field": "Datum", "type": "temporal", "title": null},
        "y": {"field": "kg", "type": "quantitative", "title": "Futteraufnahme (kg TM/Kuh/Tag)"},
        "text": {"field": "Text", "type": "nominal"}
      }
    }
  ]
}
